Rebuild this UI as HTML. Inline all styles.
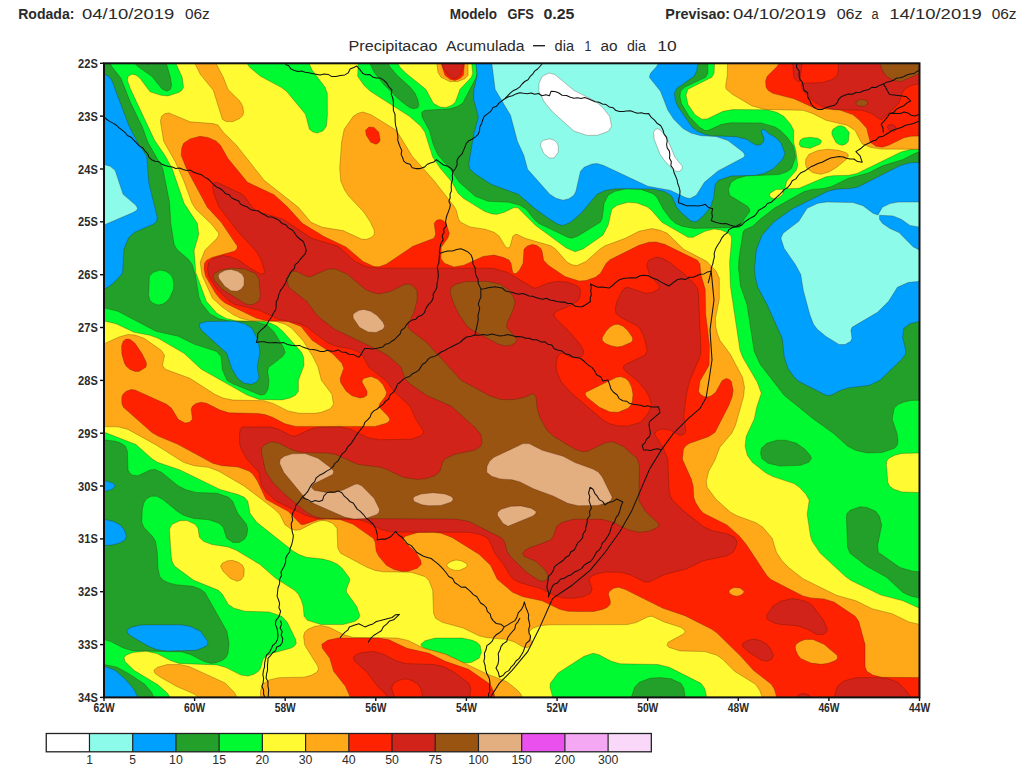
<!DOCTYPE html>
<html><head><meta charset="utf-8"><style>
html,body{margin:0;padding:0;background:#fff;width:1024px;height:770px;overflow:hidden}
svg{display:block}
text{font-family:"Liberation Sans",sans-serif;fill:#2a2a2a}
.hd{font-size:14px}
.b{font-weight:bold}
.ax{font-size:12px;font-weight:bold}
.lg{font-size:12px}
</style></head><body>
<svg width="1024" height="770" viewBox="0 0 1024 770">
<defs><clipPath id="mc"><rect x="104.0" y="63.3" width="815.5" height="634.1"/></clipPath></defs>
<text x="18.2" y="19.3" textLength="56.2" lengthAdjust="spacingAndGlyphs" class="hd b">Rodada:</text>
<text x="82.0" y="19.3" textLength="92.3" lengthAdjust="spacingAndGlyphs" class="hd">04/10/2019</text>
<text x="185.0" y="19.3" textLength="24.8" lengthAdjust="spacingAndGlyphs" class="hd">06z</text>
<text x="449.7" y="19.0" textLength="47.3" lengthAdjust="spacingAndGlyphs" class="hd b">Modelo</text>
<text x="507.5" y="19.0" textLength="26.3" lengthAdjust="spacingAndGlyphs" class="hd b">GFS</text>
<text x="543.4" y="19.0" textLength="31.0" lengthAdjust="spacingAndGlyphs" class="hd b">0.25</text>
<text x="665.3" y="19.3" textLength="64.7" lengthAdjust="spacingAndGlyphs" class="hd b">Previsao:</text>
<text x="732.9" y="19.3" textLength="93.1" lengthAdjust="spacingAndGlyphs" class="hd">04/10/2019</text>
<text x="836.7" y="19.3" textLength="25.9" lengthAdjust="spacingAndGlyphs" class="hd">06z</text>
<text x="871.5" y="19.3" textLength="7.1" lengthAdjust="spacingAndGlyphs" class="hd">a</text>
<text x="889.3" y="19.3" textLength="92.4" lengthAdjust="spacingAndGlyphs" class="hd">14/10/2019</text>
<text x="991.7" y="19.3" textLength="24.9" lengthAdjust="spacingAndGlyphs" class="hd">06z</text>
<text x="348.5" y="50.8" textLength="88.9" lengthAdjust="spacingAndGlyphs" class="hd">Precipitacao</text>
<text x="446.0" y="50.8" textLength="78.6" lengthAdjust="spacingAndGlyphs" class="hd">Acumulada</text>
<text x="554.6" y="50.8" textLength="19.4" lengthAdjust="spacingAndGlyphs" class="hd">dia</text>
<text x="584.4" y="50.8" textLength="6.8" lengthAdjust="spacingAndGlyphs" class="hd">1</text>
<text x="600.4" y="50.8" textLength="17.1" lengthAdjust="spacingAndGlyphs" class="hd">ao</text>
<text x="627.0" y="50.8" textLength="18.9" lengthAdjust="spacingAndGlyphs" class="hd">dia</text>
<text x="657.2" y="50.8" textLength="19.4" lengthAdjust="spacingAndGlyphs" class="hd">10</text>
<rect x="533" y="45" width="12" height="1.4" fill="#222"/>
<g clip-path="url(#mc)">
<rect x="104.0" y="63.3" width="815.5" height="634.1" fill="#ffffff"/>
<path fill="#8cfbea" stroke="rgba(60,20,0,0.45)" stroke-width="0.6" fill-rule="evenodd" d="M920.0 697.8 104.0 697.8 103.5 63.3 920.0 62.8 920.0 697.8ZM597.5 135.3 608.3 131.3 611.6 126.3 609.6 116.3 602.4 107.3 595.5 101.3 573.8 90.3 555.0 74.6 549.0 73.0 542.3 76.3 539.0 83.3 538.8 91.3 544.5 102.3 553.0 112.3 574.0 131.1 587.0 135.4 597.5 135.3ZM679.4 171.3 682.1 169.3 682.3 166.3 675.0 157.3 667.4 139.3 660.8 130.3 658.0 128.8 655.4 129.3 653.6 132.3 654.2 139.3 660.1 154.3 665.0 161.3 672.8 169.3 676.0 171.2 679.4 171.3ZM554.7 157.3 558.2 152.3 558.3 146.3 557.0 142.7 554.2 140.3 550.0 138.8 543.5 140.3 541.2 142.3 540.4 145.3 543.7 153.3 549.0 157.8 552.0 158.2 554.7 157.3Z"/>
<path fill="#00a0ff" stroke="rgba(60,20,0,0.45)" stroke-width="0.6" fill-rule="evenodd" d="M920.0 697.8 104.0 697.8 103.8 227.3 104.0 225.0 133.6 212.3 136.7 210.3 137.6 208.3 135.9 205.3 123.1 194.3 115.1 170.3 110.2 166.3 104.0 164.4 103.5 63.3 491.8 63.3 495.1 89.3 510.5 115.3 517.4 141.3 523.8 155.3 527.6 169.3 549.8 194.3 556.0 198.3 563.0 200.2 569.0 198.7 573.9 195.3 575.9 191.3 580.5 171.3 584.1 167.3 592.0 164.0 597.0 163.6 603.2 165.3 647.9 186.3 670.0 190.3 686.0 197.8 690.0 198.5 696.3 195.3 704.4 182.3 718.0 170.9 743.9 157.3 744.8 155.3 743.3 152.3 728.0 140.6 716.0 136.5 701.0 135.7 691.0 133.1 683.0 128.5 673.8 119.3 667.9 110.3 660.5 91.3 649.3 77.3 650.5 73.3 656.8 66.3 658.3 63.3 920.0 62.8 920.0 202.0 898.0 202.1 890.0 203.6 882.3 207.3 878.0 214.9 873.0 213.3 863.0 205.7 853.0 202.6 827.0 202.0 818.0 203.2 807.1 208.3 798.8 221.3 783.1 233.3 780.9 238.3 784.1 248.3 795.2 264.3 800.7 274.3 803.3 290.3 809.7 314.3 813.5 324.3 817.3 329.3 826.0 336.5 839.0 344.4 845.0 344.6 850.7 341.3 852.0 338.3 850.9 330.3 852.0 327.3 877.5 312.3 888.6 301.3 897.4 287.3 908.0 282.5 920.0 281.3 920.0 697.8ZM920.0 250.4 913.0 246.7 899.0 232.6 890.0 228.6 882.3 223.3 879.5 219.3 879.5 215.3 893.0 215.9 901.2 219.3 910.0 225.4 920.0 227.2 920.0 250.4Z"/>
<path fill="#22a02a" stroke="rgba(60,20,0,0.45)" stroke-width="0.6" fill-rule="evenodd" d="M920.0 697.8 138.0 697.3 133.2 688.3 125.3 679.3 115.1 670.3 104.0 666.0 103.8 664.3 104.0 545.5 112.0 545.1 120.0 542.9 124.7 540.3 126.6 536.3 124.5 530.3 120.8 525.3 113.3 521.3 104.0 519.3 103.8 517.3 104.0 491.7 112.0 489.4 115.2 486.3 114.4 484.3 112.0 482.6 104.0 480.4 103.7 477.3 103.7 294.3 104.0 289.0 108.0 287.3 114.3 282.3 122.6 273.3 123.9 249.3 128.9 237.3 134.8 232.3 154.0 223.9 156.6 221.3 157.3 217.3 148.9 183.3 146.7 156.3 136.4 140.3 128.7 125.3 111.8 80.3 108.9 76.3 104.0 74.0 103.6 63.3 137.0 63.0 145.6 63.3 147.0 64.4 149.4 63.3 173.0 62.8 475.8 63.3 476.9 76.3 473.8 90.3 473.6 99.3 478.4 117.3 473.9 133.3 468.7 164.3 469.3 168.3 474.3 173.3 491.0 184.2 518.4 194.3 534.5 208.3 549.0 218.8 558.0 224.3 563.0 225.4 570.5 222.3 581.1 213.3 597.0 194.3 605.0 190.6 615.0 188.8 653.0 188.9 665.0 191.7 671.8 196.3 676.7 207.3 680.8 212.3 691.0 221.0 696.0 221.9 702.9 216.3 710.4 207.3 713.8 197.3 715.2 184.3 718.6 180.3 731.0 176.0 755.0 175.4 764.0 173.5 773.0 168.9 782.7 159.3 785.0 153.3 781.1 143.3 776.0 137.7 769.0 133.7 764.0 129.3 762.0 129.7 761.1 131.3 764.0 138.3 763.7 141.3 761.1 144.3 758.0 145.2 754.5 144.3 746.5 139.3 736.0 136.7 712.0 135.8 705.0 134.4 697.2 131.3 692.0 127.1 677.7 106.3 675.3 100.3 674.4 93.3 676.9 88.3 694.1 76.3 696.6 71.3 698.0 63.3 920.0 62.8 920.0 162.4 910.0 162.8 900.8 165.3 858.0 187.0 850.0 188.6 836.0 189.2 827.9 191.3 792.0 209.0 773.5 222.3 762.0 235.3 756.5 249.3 754.5 267.3 755.0 276.3 757.8 287.3 766.9 304.3 782.2 338.3 784.3 357.3 787.8 368.3 794.3 377.3 798.6 381.3 826.0 395.3 831.0 395.3 840.7 390.3 848.0 387.9 869.0 385.4 880.0 380.3 901.7 359.3 905.5 354.3 905.8 350.3 902.6 337.3 903.8 328.3 910.0 323.8 920.0 321.3 920.0 697.8ZM251.8 384.3 257.0 381.6 259.0 378.3 257.3 366.3 260.0 352.3 258.0 340.3 252.0 328.3 245.0 323.8 234.0 321.1 207.0 321.6 199.9 323.3 199.2 326.3 201.5 330.3 226.8 353.3 231.6 368.3 237.6 378.3 244.3 383.3 251.8 384.3ZM196.4 650.3 206.1 646.3 207.7 644.3 207.7 641.3 200.5 631.3 190.0 626.3 181.0 624.8 141.0 624.9 131.3 627.3 127.8 629.3 126.7 631.3 128.6 634.3 134.6 638.3 149.0 646.5 157.0 649.7 167.0 651.1 196.4 650.3Z"/>
<path fill="#00fa32" stroke="rgba(60,20,0,0.45)" stroke-width="0.6" fill-rule="evenodd" d="M920.0 697.8 685.2 697.3 683.9 688.3 680.9 683.3 671.0 678.8 660.0 677.6 650.0 678.3 639.3 682.3 634.6 687.3 631.3 697.3 628.0 697.5 157.0 697.4 153.8 697.3 151.6 692.3 144.8 684.3 129.0 673.7 117.0 667.2 104.0 664.4 104.0 639.6 110.3 641.3 123.9 648.3 133.0 650.8 182.0 651.9 191.0 654.8 203.4 661.3 211.0 663.4 216.0 662.8 222.5 660.3 226.2 657.3 228.0 653.3 229.1 643.3 226.9 631.3 204.8 592.3 200.0 588.9 192.8 586.3 176.0 584.7 169.0 583.0 163.3 580.3 159.7 576.3 158.0 568.3 157.2 551.3 155.5 541.3 152.4 536.3 143.9 527.3 141.8 522.3 142.3 509.3 143.7 503.3 146.0 499.3 151.0 496.2 156.7 496.3 163.0 499.6 177.2 511.3 184.0 515.4 194.0 518.5 209.0 519.8 219.1 523.3 223.2 527.3 226.7 538.3 233.0 542.5 239.0 542.5 244.4 539.3 246.8 535.3 247.7 529.3 246.5 524.3 237.7 513.3 232.6 501.3 228.6 497.3 217.0 493.2 196.0 492.4 186.0 489.8 178.0 485.7 161.5 472.3 155.0 469.4 150.0 470.0 138.0 475.8 132.7 475.3 129.9 473.3 128.0 470.1 127.4 451.3 125.5 446.3 121.3 443.3 116.0 441.3 104.0 439.8 104.0 307.8 117.9 311.3 156.0 331.3 178.2 336.3 194.5 344.3 216.2 351.3 220.9 356.3 222.5 370.3 226.9 380.3 232.0 383.6 261.0 395.2 265.0 394.1 268.0 389.3 269.0 381.3 267.7 371.3 268.6 367.3 282.9 356.3 285.2 352.3 283.4 347.3 274.0 331.8 267.3 325.3 254.0 321.2 229.0 320.8 219.0 318.8 210.0 314.0 201.5 303.3 199.0 297.3 195.4 275.3 192.1 264.3 188.3 259.3 176.8 249.3 174.1 244.3 170.8 223.3 169.5 202.3 162.8 168.3 147.9 142.3 142.5 127.3 130.4 102.3 121.0 78.3 111.6 66.3 110.4 63.3 135.1 63.3 137.4 66.3 151.8 76.3 162.0 88.9 167.0 91.2 170.5 89.3 171.6 85.3 170.4 77.3 166.3 63.3 369.8 63.3 374.1 72.3 384.0 84.7 397.0 97.7 406.2 105.3 410.0 107.8 414.0 108.8 418.0 107.6 418.8 105.3 418.0 100.3 415.0 93.3 410.4 87.3 397.1 75.3 389.5 66.3 388.2 63.3 475.8 63.3 476.8 73.3 476.2 77.3 462.6 103.3 457.8 106.3 450.0 108.8 425.0 110.3 421.6 112.3 422.1 117.3 429.3 130.3 433.2 144.3 437.4 154.3 450.3 169.3 459.3 182.3 475.2 196.3 488.2 201.3 509.0 202.3 520.1 205.3 526.3 209.3 534.0 219.3 538.5 223.3 567.7 237.3 572.0 238.2 578.0 235.9 600.2 222.3 602.2 218.3 604.1 203.3 608.1 195.3 615.0 191.3 626.0 188.9 641.0 189.4 653.0 193.7 656.9 197.3 663.3 209.3 670.8 219.3 675.4 223.3 682.0 226.3 694.0 228.4 739.0 227.4 741.0 225.9 744.1 219.3 749.4 212.3 749.8 209.3 747.4 206.3 729.6 195.3 728.5 189.3 731.1 182.3 737.0 178.5 746.0 176.0 779.0 174.6 787.0 171.8 791.6 168.3 795.6 157.3 793.5 146.3 787.3 137.3 780.2 130.3 775.0 126.9 761.0 122.9 730.0 122.8 721.0 124.6 708.4 130.3 705.0 130.6 699.6 127.3 689.1 116.3 681.3 103.3 680.0 96.3 680.6 91.3 684.5 87.3 705.7 77.3 707.9 73.3 707.7 63.3 920.0 62.8 920.0 151.8 915.0 153.3 903.0 159.5 883.0 165.6 868.0 173.1 848.0 178.4 832.0 186.3 824.0 188.4 812.0 189.4 804.0 191.6 775.0 207.8 760.0 219.3 752.6 226.3 745.0 229.5 743.2 231.3 739.0 258.3 738.5 268.3 740.5 286.3 746.9 304.3 754.2 351.3 760.1 364.3 784.1 395.3 813.0 418.7 833.3 433.3 847.8 446.3 856.0 450.5 867.0 452.9 882.0 452.6 894.4 448.3 897.2 445.3 898.0 441.3 897.0 433.3 892.2 419.3 894.1 408.3 898.0 404.6 904.0 402.0 911.0 400.4 920.0 400.2 920.0 571.9 912.0 571.1 900.0 567.5 878.3 552.3 877.6 545.3 881.7 525.3 879.5 516.3 875.7 511.3 867.0 507.4 860.0 506.7 850.1 510.3 847.1 513.3 846.4 516.3 847.6 547.3 850.0 553.3 866.8 566.3 886.5 577.3 903.0 592.5 911.0 596.2 920.0 598.1 920.0 697.8ZM162.0 304.3 158.0 305.0 153.0 303.2 149.8 300.3 148.6 295.3 149.4 276.3 153.3 272.3 160.0 270.1 165.7 271.3 170.4 274.3 172.8 278.3 173.8 284.3 173.1 290.3 169.5 298.3 166.0 302.1 162.0 304.3ZM800.6 465.3 808.7 462.3 811.5 458.3 810.2 455.3 805.0 449.3 796.6 443.3 786.0 440.2 777.0 440.2 766.7 443.3 761.3 448.3 760.6 453.3 761.6 458.3 768.0 463.3 780.0 466.1 800.6 465.3Z"/>
<path fill="#fffa32" stroke="rgba(60,20,0,0.45)" stroke-width="0.6" fill-rule="evenodd" d="M920.0 697.8 706.8 697.3 704.6 688.3 701.0 683.3 669.3 667.3 658.0 664.5 620.0 663.8 611.4 661.3 599.0 654.8 593.0 653.3 584.0 656.3 558.0 673.0 550.3 683.3 550.0 687.3 552.7 697.3 549.0 697.5 170.0 697.3 167.6 693.3 158.0 684.8 134.0 670.3 124.8 661.3 124.1 657.3 127.0 654.7 133.0 652.4 146.0 651.3 157.0 653.6 171.0 660.7 179.0 663.4 217.0 664.9 226.0 667.6 241.0 675.1 248.0 676.1 253.9 674.3 258.5 671.3 260.5 668.3 263.0 659.5 266.0 656.2 273.0 653.0 290.7 648.3 294.3 646.3 296.3 643.3 295.6 639.3 287.3 622.3 281.8 616.3 269.0 611.9 245.0 611.3 234.0 608.2 228.2 604.3 222.4 594.3 218.5 590.3 193.7 580.3 174.8 566.3 172.4 562.3 171.3 557.3 169.4 529.3 172.0 524.3 180.0 520.7 187.0 520.6 195.1 524.3 198.0 528.3 199.4 537.3 203.4 541.3 212.0 544.5 228.0 547.0 236.4 550.3 260.0 564.5 275.7 578.3 294.6 590.3 298.4 594.3 301.3 600.3 303.2 606.3 304.1 616.3 307.4 620.3 321.0 624.5 343.0 624.6 355.0 621.3 358.9 618.3 359.8 615.3 356.6 606.3 346.5 592.3 346.4 589.3 349.5 581.3 349.6 578.3 342.2 568.3 337.5 564.3 331.0 561.2 323.0 559.1 306.4 557.3 299.0 554.6 293.0 550.9 256.8 522.3 250.0 513.3 247.8 501.3 244.4 497.3 238.0 494.5 220.0 489.4 180.0 469.9 157.5 462.3 152.0 458.8 136.0 444.5 104.0 432.1 104.0 321.0 116.0 323.7 134.0 332.3 149.8 335.3 158.1 338.3 184.0 353.3 201.0 369.1 247.5 395.3 259.0 399.4 282.0 399.9 290.0 398.0 295.5 395.3 298.4 391.3 298.4 380.3 304.0 365.3 303.6 357.3 301.5 352.3 283.0 331.4 277.2 326.3 270.8 323.3 263.0 321.3 236.0 320.8 226.0 318.4 216.9 313.3 206.4 301.3 195.7 272.3 194.1 250.3 198.8 234.3 197.3 223.3 184.1 203.3 172.0 168.3 165.5 156.3 154.6 140.3 130.6 89.3 127.3 80.3 128.2 76.3 132.0 74.2 136.0 75.1 140.0 78.3 150.0 91.7 161.0 95.3 168.0 95.9 179.2 92.3 181.9 90.3 183.5 87.3 182.2 77.3 175.8 63.3 247.0 63.3 249.6 67.3 260.5 76.3 281.1 87.3 286.5 91.3 305.5 114.3 309.4 129.3 313.0 132.0 317.0 133.1 323.0 130.9 326.4 126.3 327.4 115.3 327.3 93.3 325.1 87.3 312.3 70.3 308.9 63.3 358.2 63.3 357.7 76.3 363.9 85.3 370.3 91.3 409.4 116.3 420.8 126.3 424.9 132.3 432.8 157.3 440.3 168.3 452.0 182.3 458.0 193.3 463.4 198.3 484.4 211.3 492.0 213.9 497.0 214.3 504.2 212.3 514.0 207.6 518.0 207.8 535.4 225.3 566.0 247.8 575.0 251.8 583.0 249.1 602.9 235.3 608.1 225.3 611.8 209.3 617.1 205.3 628.0 202.3 637.0 203.0 647.0 206.8 651.5 210.3 661.9 222.3 688.0 237.3 693.0 237.3 704.9 231.3 714.0 229.0 721.0 230.0 728.5 233.3 731.1 236.3 731.6 239.3 729.6 262.3 730.4 286.3 740.0 350.3 742.7 357.3 757.3 382.3 761.3 393.3 756.7 407.3 754.2 419.3 746.2 436.3 745.1 446.3 747.3 455.3 752.3 462.3 766.0 473.0 773.0 476.6 794.0 483.6 799.4 487.3 805.9 494.3 809.2 500.3 807.2 514.3 810.5 536.3 812.2 541.3 820.3 553.3 845.2 576.3 851.0 580.5 881.0 595.1 903.0 600.8 920.0 608.5 920.0 697.8ZM446.0 107.5 440.0 107.0 433.4 103.3 425.8 89.3 406.0 73.2 400.0 67.3 397.7 63.3 471.8 63.3 472.7 73.3 471.4 77.3 460.0 89.3 455.3 102.3 451.7 105.3 446.0 107.5ZM799.0 188.3 788.0 188.7 785.0 187.9 786.7 181.3 796.3 170.3 797.7 165.3 796.0 151.3 793.6 142.3 793.7 130.3 790.6 124.3 784.0 116.4 776.8 112.3 767.0 109.8 733.0 109.6 723.0 111.3 707.0 119.0 702.0 119.2 695.0 114.7 687.9 104.3 686.0 95.3 687.9 89.3 711.8 77.3 714.1 73.3 714.5 63.3 920.0 62.8 920.0 149.2 910.0 149.6 901.0 152.0 857.0 173.5 849.0 175.3 833.0 175.7 826.0 176.8 799.0 188.3ZM842.5 145.3 846.0 143.9 848.4 141.3 849.1 132.3 845.0 127.2 841.0 125.7 838.0 126.0 832.9 129.3 831.8 132.3 832.2 135.3 835.8 142.3 839.0 144.6 842.5 145.3ZM810.1 148.3 819.8 144.3 821.3 142.3 821.2 140.3 817.8 138.3 810.0 137.2 803.0 138.2 800.1 140.3 799.2 144.3 801.0 147.0 810.1 148.3ZM778.0 198.3 774.0 198.8 771.0 197.6 769.4 195.3 770.1 193.3 776.0 189.4 783.6 189.3 782.8 194.3 778.0 198.3ZM920.0 492.6 902.0 491.9 894.0 489.3 889.7 486.3 887.8 482.3 886.4 464.3 886.7 461.3 888.9 458.3 894.7 455.3 902.0 453.4 920.0 453.0 920.0 492.6ZM471.7 662.3 479.1 658.3 481.4 652.3 480.1 645.3 476.9 642.3 472.5 640.3 462.0 638.0 435.0 638.1 425.0 640.7 420.8 644.3 421.6 646.3 424.7 648.3 445.0 654.0 461.0 661.9 467.0 663.1 471.7 662.3Z"/>
<path fill="#ffa818" stroke="rgba(60,20,0,0.45)" stroke-width="0.6" fill-rule="evenodd" d="M233.0 121.6 226.0 121.5 222.4 119.3 213.3 90.3 200.3 74.3 194.8 63.3 215.9 63.3 223.3 77.3 227.9 89.3 240.0 101.3 242.8 106.3 243.6 112.3 242.9 115.3 240.0 118.3 233.0 121.6ZM458.0 81.5 450.0 81.6 441.0 77.3 438.0 72.3 436.8 63.3 467.8 63.3 468.1 75.3 465.0 78.6 458.0 81.5ZM920.0 149.2 881.0 149.1 870.5 147.3 862.0 143.8 855.0 130.3 847.0 125.2 826.0 120.3 812.0 113.2 803.0 110.3 765.0 109.4 752.0 105.9 732.3 94.3 726.4 89.3 725.6 86.3 727.3 75.3 727.5 63.3 920.0 62.8 920.0 149.2ZM920.0 697.8 762.3 697.3 759.7 690.3 755.5 684.3 734.6 671.3 722.6 659.3 717.0 655.3 705.0 651.6 680.0 650.9 668.8 647.3 667.0 645.3 668.1 642.3 682.9 634.3 685.0 632.3 684.9 630.3 680.7 627.3 664.0 621.9 652.0 616.2 648.0 616.8 636.0 622.6 627.0 624.6 548.0 624.8 540.0 625.8 532.8 628.3 529.3 631.3 528.9 634.3 532.1 643.3 530.1 646.3 527.0 647.6 523.0 647.1 514.0 641.7 505.5 639.3 487.0 637.7 479.0 635.8 463.0 628.0 442.2 622.3 435.6 618.3 433.6 613.3 432.7 590.3 429.0 580.6 425.0 576.6 411.0 572.2 383.0 571.8 375.0 570.4 367.0 567.3 340.7 553.3 337.8 548.3 337.0 528.3 332.7 523.3 326.0 520.7 321.0 520.5 314.0 522.7 300.0 529.7 296.0 530.3 291.0 529.0 285.0 524.7 279.7 514.3 274.7 509.3 244.0 485.9 218.9 471.3 208.4 467.3 194.0 465.7 183.4 462.3 156.6 445.3 128.0 429.4 118.0 426.8 104.0 426.6 104.0 343.9 119.0 336.9 128.0 334.5 135.0 335.1 144.0 338.2 161.2 350.3 164.6 355.3 162.4 365.3 165.3 369.3 189.9 378.3 214.8 394.3 223.0 398.0 233.0 400.1 264.0 400.7 273.0 403.4 288.0 410.9 299.0 413.3 315.0 413.3 321.3 412.3 330.0 408.9 333.5 404.3 331.9 394.3 321.4 380.3 317.7 366.3 312.7 356.3 303.5 341.3 291.8 328.3 285.4 324.3 276.0 321.5 251.0 320.8 240.6 318.3 233.0 314.6 222.5 307.3 212.5 298.3 202.1 275.3 200.2 262.3 204.9 250.3 217.0 238.3 218.7 235.3 218.7 233.3 211.7 224.3 195.9 209.3 192.1 203.3 183.6 180.3 175.5 162.3 163.7 141.3 160.4 121.3 161.5 116.3 165.0 113.6 169.0 112.9 190.0 121.8 213.0 123.6 218.0 125.1 223.3 132.3 236.5 145.3 264.1 180.3 298.4 207.3 311.0 222.3 322.4 227.3 343.0 230.6 361.9 239.3 367.0 239.3 371.6 237.3 374.3 234.3 374.2 230.3 370.5 222.3 363.9 212.3 348.9 196.3 344.8 190.3 340.8 181.3 339.7 168.3 341.6 142.3 344.2 129.3 353.3 116.3 358.0 113.3 363.0 112.0 371.0 114.7 396.3 130.3 412.3 156.3 433.7 180.3 454.1 206.3 456.3 210.3 458.6 219.3 460.7 222.3 470.0 226.9 485.0 229.2 494.2 232.3 499.2 236.3 506.0 247.4 508.0 248.0 510.0 246.8 512.8 236.3 515.0 234.5 517.0 234.3 525.1 238.3 551.0 245.8 556.0 249.5 567.0 262.0 572.0 264.8 577.0 265.6 586.0 261.5 599.6 249.3 605.0 245.8 625.3 238.3 639.0 231.3 652.0 228.6 660.2 230.3 667.2 233.3 683.7 249.3 706.7 261.3 716.2 271.3 719.3 278.3 719.3 299.3 715.5 318.3 715.7 326.3 717.3 333.3 719.9 340.3 730.3 354.3 742.5 377.3 744.5 387.3 743.6 396.3 735.5 425.3 731.7 433.3 719.8 447.3 714.8 460.3 708.7 471.3 706.3 481.3 707.1 487.3 716.0 499.3 730.6 512.3 737.0 515.8 756.0 522.7 762.8 527.3 772.2 538.3 776.4 552.3 781.7 560.3 788.3 567.3 803.0 578.7 836.5 595.3 856.0 600.8 872.0 608.7 892.0 613.7 909.0 621.9 920.0 624.5 920.0 697.8ZM821.0 174.3 813.0 172.7 806.9 168.3 805.6 164.3 805.8 159.3 809.0 154.3 818.0 150.4 828.0 149.2 838.5 150.3 845.2 152.3 848.0 154.3 848.3 156.3 846.4 159.3 836.7 167.3 829.0 171.9 821.0 174.3ZM237.0 581.3 230.0 578.3 223.1 571.3 220.5 566.3 222.3 563.3 227.0 560.9 232.0 560.3 238.5 562.3 242.6 565.3 244.3 569.3 243.8 576.3 241.0 579.9 237.0 581.3ZM459.6 570.3 466.2 567.3 467.2 565.3 466.2 563.3 461.0 560.7 456.0 560.0 451.0 561.4 447.0 564.3 446.9 566.3 450.0 568.7 455.0 570.4 459.6 570.3ZM522.0 697.3 270.0 697.6 260.5 697.3 260.5 691.3 262.3 684.3 270.0 679.7 279.0 677.7 304.0 677.2 311.3 675.3 316.7 672.3 318.4 669.3 317.8 666.3 304.8 645.3 303.6 636.3 304.7 632.3 307.8 629.3 314.9 626.3 321.0 625.4 329.3 627.3 344.0 634.7 353.0 637.4 397.0 638.0 408.0 640.4 424.0 648.3 445.8 654.3 487.0 673.9 507.0 681.7 517.5 690.3 521.0 694.3 522.0 697.3ZM236.0 697.3 197.9 697.3 194.9 694.3 176.3 686.3 160.6 677.3 154.9 673.3 153.9 670.3 157.5 667.3 167.0 664.6 180.0 664.5 189.0 666.5 225.0 682.9 234.2 692.3 236.5 696.3 236.0 697.3Z"/>
<path fill="#ff2200" stroke="rgba(60,20,0,0.45)" stroke-width="0.6" fill-rule="evenodd" d="M455.0 80.4 450.0 79.3 445.0 75.3 441.1 63.3 464.5 63.3 463.4 75.3 460.0 78.6 455.0 80.4ZM882.0 147.3 876.0 146.2 870.2 142.3 866.7 128.3 859.0 119.7 853.0 114.8 840.0 110.1 815.0 108.3 794.0 98.8 772.7 93.3 768.0 90.3 766.1 87.3 765.6 81.3 767.2 76.3 777.3 66.3 779.0 63.3 920.0 62.8 920.0 136.0 911.0 136.2 904.0 137.8 888.0 145.5 882.0 147.3ZM376.0 144.3 370.8 142.3 366.3 135.3 365.6 130.3 369.0 127.1 374.0 127.4 378.8 132.3 380.2 140.3 379.0 142.6 376.0 144.3ZM920.0 697.8 776.7 697.3 774.4 689.3 771.3 684.3 753.4 670.3 740.8 656.3 717.0 633.0 711.8 629.3 685.0 615.7 663.0 608.3 624.9 589.3 618.4 587.3 613.6 588.3 609.4 591.3 608.4 594.3 610.4 601.3 610.2 604.3 607.4 607.3 603.1 609.3 594.0 611.4 579.0 611.5 568.0 611.3 559.7 609.3 542.0 600.8 523.0 596.8 512.6 592.3 497.3 579.3 490.5 565.3 479.0 554.3 452.0 537.4 441.2 533.3 434.0 532.3 418.0 532.4 405.3 536.3 403.4 538.3 403.9 541.3 416.6 553.3 420.7 560.3 421.3 564.3 417.3 568.3 408.0 571.3 402.0 571.5 394.0 569.4 386.4 565.3 378.8 556.3 376.2 551.3 375.2 542.3 373.2 538.3 353.1 524.3 340.0 519.6 327.0 519.1 318.0 519.8 304.0 524.5 301.0 524.5 288.1 511.3 266.0 499.3 257.0 480.3 252.9 474.3 249.4 471.3 238.0 467.0 222.0 465.8 212.8 463.3 177.8 444.3 158.0 436.1 152.0 432.6 123.4 407.3 121.8 403.3 121.8 397.3 122.9 394.3 126.2 391.3 131.0 389.5 135.0 389.9 166.7 404.3 171.6 408.3 178.2 419.3 185.0 423.1 189.3 422.3 192.4 419.3 191.2 409.3 192.3 406.3 196.0 403.6 201.0 402.2 206.6 403.3 220.0 410.1 229.0 412.8 258.0 413.5 265.0 414.6 272.6 417.3 285.0 423.8 296.0 426.4 375.0 426.4 386.4 423.3 389.1 421.3 389.8 419.3 388.2 416.3 379.3 407.3 379.3 404.3 385.5 396.3 386.6 392.3 383.0 384.7 377.9 379.3 371.0 376.4 364.1 378.3 362.3 380.3 362.1 382.3 367.1 391.3 366.9 395.3 364.0 397.3 360.0 398.0 352.0 395.8 346.0 390.9 340.5 382.3 340.2 378.3 343.8 368.3 341.8 363.3 333.0 354.0 312.1 340.3 301.0 326.4 288.0 321.5 266.0 320.7 256.0 318.1 225.0 302.9 220.5 299.3 215.6 293.3 205.6 276.3 204.1 269.3 204.5 263.3 206.7 260.3 212.0 257.4 234.1 251.3 236.7 249.3 237.4 246.3 221.2 222.3 207.3 207.3 186.3 168.3 181.2 155.3 181.7 148.3 183.6 143.3 190.0 138.9 200.0 136.3 208.0 137.5 216.0 140.9 220.5 145.3 227.8 158.3 247.5 182.3 274.0 194.7 286.9 206.3 302.3 223.3 324.0 236.5 346.0 246.9 363.0 261.5 374.0 266.5 379.0 266.7 386.2 264.3 412.9 246.3 434.0 238.3 435.6 234.3 434.2 223.3 436.6 220.3 440.0 219.4 443.0 220.4 446.1 223.3 449.3 233.3 448.0 237.8 441.2 247.3 441.0 258.7 444.5 263.3 454.0 266.9 463.8 265.3 483.0 256.4 494.0 255.1 503.0 257.3 509.0 260.1 511.0 263.3 512.7 272.3 514.0 273.6 516.0 273.5 519.4 270.3 523.1 263.3 524.0 249.3 527.0 246.2 532.0 244.4 536.5 245.3 540.6 248.3 542.1 251.3 543.6 260.3 548.3 265.3 565.0 276.6 579.0 281.0 586.0 280.5 595.4 277.3 600.5 273.3 606.2 263.3 610.0 259.7 639.0 245.3 649.0 242.2 656.0 242.0 664.6 244.3 697.4 260.3 700.0 264.3 701.1 275.3 705.2 289.3 705.7 314.3 709.5 345.3 709.1 365.3 699.9 381.3 698.6 391.3 700.3 394.3 704.0 396.6 707.0 397.0 711.0 396.0 715.7 392.3 722.0 380.7 726.0 378.5 729.0 379.2 731.3 381.3 733.1 390.3 732.3 396.3 728.9 405.3 715.1 432.3 709.0 436.5 689.0 443.6 685.3 446.3 683.4 449.3 682.4 459.3 691.4 479.3 693.2 486.3 693.8 497.3 695.5 502.3 699.8 509.3 703.6 513.3 727.0 524.9 739.6 536.3 746.2 544.3 766.7 575.3 770.5 579.3 803.0 595.9 811.0 597.9 824.0 598.9 834.0 602.0 855.2 616.3 858.7 621.3 865.0 644.3 865.0 666.3 866.8 671.3 873.0 675.1 882.0 677.3 920.0 677.6 920.0 697.8ZM622.0 346.3 631.3 342.3 632.7 340.3 632.4 337.3 627.5 330.3 623.0 326.3 618.0 324.2 614.0 324.7 609.7 327.3 606.0 331.3 602.4 337.3 602.2 340.3 605.0 343.3 611.0 345.8 617.0 346.9 622.0 346.3ZM139.0 371.4 135.0 371.4 130.0 369.4 126.3 366.3 124.5 363.3 121.9 354.3 121.6 346.3 123.0 341.4 126.0 339.1 130.0 339.3 135.0 343.3 141.8 353.3 145.8 361.3 146.6 364.3 145.8 367.3 139.0 371.4ZM618.1 412.3 628.0 408.3 630.9 405.3 632.3 401.3 633.0 394.3 631.6 387.3 629.0 381.5 625.4 378.3 621.0 376.7 616.5 377.3 585.9 392.3 585.2 394.3 586.9 397.3 599.5 407.3 610.0 411.9 618.1 412.3ZM740.5 595.3 743.5 593.3 744.1 591.3 740.0 587.9 734.0 587.6 730.4 589.3 728.9 591.3 729.5 593.3 733.0 595.5 737.0 596.2 740.5 595.3ZM494.0 697.3 350.3 697.3 345.4 686.3 333.6 671.3 329.8 658.3 322.4 648.3 321.8 644.3 327.7 640.3 338.0 638.0 379.0 638.0 389.0 639.8 407.0 648.3 429.0 653.3 445.4 661.3 468.6 669.3 490.2 684.3 493.6 691.3 494.8 697.3 494.0 697.3ZM821.4 664.3 828.2 663.3 835.0 660.7 837.6 658.3 837.1 655.3 824.0 644.3 813.0 639.5 805.0 639.5 800.0 641.4 796.1 644.3 795.2 647.3 795.8 650.3 798.0 655.3 801.0 658.7 811.0 663.1 821.4 664.3Z"/>
<path fill="#d2231b" stroke="rgba(60,20,0,0.45)" stroke-width="0.6" fill-rule="evenodd" d="M455.0 78.5 452.0 78.0 448.0 74.9 443.6 68.3 441.8 63.3 463.9 63.3 460.7 74.3 458.0 77.3 455.0 78.5ZM800.0 81.6 797.0 81.1 793.9 77.3 792.6 63.3 802.1 63.3 800.0 81.6ZM882.0 119.5 879.0 118.8 871.0 113.2 862.0 110.3 834.0 109.4 822.0 106.3 815.0 102.3 805.0 93.3 802.1 89.3 801.1 84.3 803.0 83.2 822.0 82.7 832.9 79.3 837.8 74.3 838.5 63.3 920.0 62.8 920.0 83.5 911.0 85.6 904.6 89.3 902.6 92.3 898.8 103.3 882.0 119.5ZM894.0 131.6 889.0 130.1 887.4 127.3 888.0 125.3 892.0 124.5 895.4 126.3 896.6 129.3 894.0 131.6ZM573.0 598.3 564.0 598.1 556.3 596.3 539.9 588.3 521.0 583.0 514.0 579.6 510.7 576.3 504.1 565.3 494.9 553.3 489.2 540.3 486.0 537.2 480.0 534.4 469.0 532.3 392.0 532.1 381.0 529.4 367.0 522.3 358.0 519.6 316.0 518.5 306.0 515.4 276.3 501.3 265.3 491.3 261.4 485.3 258.8 472.3 246.9 459.3 240.8 448.3 239.6 443.3 239.6 434.3 240.3 429.3 242.0 427.0 271.0 427.1 278.7 429.3 291.0 435.6 295.0 436.3 309.0 429.8 317.0 427.3 340.0 426.7 351.0 429.4 368.0 437.7 379.0 439.8 411.0 439.2 421.0 435.7 423.4 433.3 423.6 431.3 415.8 419.3 410.0 406.3 395.9 393.3 385.6 380.3 368.9 367.3 363.0 356.3 359.1 352.3 351.0 348.8 336.8 346.3 328.2 343.3 307.0 327.3 300.0 323.7 278.7 319.3 259.0 310.2 234.6 304.3 228.0 300.3 217.2 289.3 209.3 277.3 207.5 269.3 208.8 262.3 212.0 259.3 216.2 257.3 223.0 255.6 230.0 256.7 239.0 260.3 249.0 267.5 261.0 274.3 264.0 273.5 264.6 271.3 261.4 260.3 256.0 251.0 239.4 233.3 219.2 207.3 213.5 193.3 212.6 186.3 214.0 182.8 217.0 182.3 241.0 193.6 245.3 197.3 252.2 207.3 257.6 211.3 283.0 219.3 311.7 238.3 338.0 246.3 355.0 261.4 366.0 266.6 376.0 268.0 493.0 268.2 507.2 272.3 534.0 288.1 537.0 287.8 548.0 283.1 557.0 281.4 567.0 282.0 576.2 285.3 578.9 287.3 580.5 290.3 580.1 296.3 578.4 300.3 573.1 304.3 556.9 311.3 554.5 313.3 553.9 315.3 555.5 318.3 568.0 330.3 578.0 341.8 583.1 349.3 583.8 353.3 581.3 356.3 576.0 358.0 570.0 356.8 563.0 353.2 560.0 353.8 557.8 356.3 556.4 361.3 556.1 367.3 557.1 372.3 560.9 381.3 571.7 393.3 603.4 420.3 609.0 423.4 617.0 425.8 627.0 426.2 640.8 422.3 648.7 412.3 651.4 405.3 649.5 397.3 645.6 390.3 637.9 381.3 625.6 371.3 623.4 368.3 623.6 366.3 625.8 364.3 644.9 355.3 647.3 350.3 644.5 338.3 639.8 328.3 636.2 325.3 619.0 316.4 616.0 313.3 615.4 309.3 616.3 303.3 620.7 293.3 624.0 288.7 627.0 287.1 646.0 293.4 652.8 292.3 658.2 289.3 659.2 287.3 658.7 285.3 649.3 274.3 646.7 265.3 648.8 260.3 656.0 257.1 662.0 258.1 669.5 262.3 685.9 275.3 694.8 284.3 697.4 288.3 698.4 292.3 701.0 352.3 699.4 358.3 689.8 380.3 686.6 393.3 683.8 416.3 685.9 431.3 683.9 434.3 680.0 435.5 670.0 430.1 662.0 428.9 656.0 431.1 654.8 434.3 663.3 448.3 667.8 459.3 668.9 488.3 670.4 496.3 672.5 500.3 684.2 511.3 704.0 527.1 712.0 530.5 728.6 534.3 734.6 537.3 737.0 541.3 735.9 547.3 732.8 552.3 727.0 555.8 703.0 560.8 686.0 569.1 665.2 574.3 649.0 582.1 644.0 581.8 631.0 575.1 621.0 572.3 606.0 572.0 597.0 573.8 591.4 576.3 589.0 579.3 592.1 589.3 590.4 593.3 583.0 596.8 573.0 598.3ZM823.0 634.4 817.0 634.5 807.0 629.0 797.0 625.7 781.0 624.5 774.0 622.9 767.3 619.3 766.4 615.3 772.9 606.3 780.7 601.3 792.0 598.5 803.0 600.4 809.0 603.1 813.1 606.3 823.5 620.3 827.4 629.3 826.1 632.3 823.0 634.4ZM767.0 661.3 761.6 660.3 749.0 652.2 743.3 647.3 742.3 645.3 742.9 643.3 747.8 640.3 754.0 639.1 760.0 640.5 766.0 643.6 770.3 648.3 773.4 655.3 771.5 659.3 767.0 661.3ZM469.0 697.3 422.8 697.3 421.0 689.3 418.1 684.3 412.0 680.5 405.0 678.8 398.0 680.6 392.8 684.3 391.7 688.3 394.4 697.3 386.9 697.3 386.0 694.3 377.5 686.3 367.0 672.3 354.7 661.3 353.4 657.3 356.0 654.8 361.0 652.7 373.0 651.4 383.0 654.0 396.0 660.7 405.0 663.6 434.0 664.5 444.0 666.8 454.0 672.0 468.9 683.3 470.7 688.3 469.8 697.3 469.0 697.3ZM909.0 697.3 834.2 697.3 837.4 686.3 844.0 680.9 856.0 677.7 877.0 677.6 887.0 678.3 898.0 682.3 906.8 691.3 909.3 695.3 909.8 697.3 909.0 697.3ZM810.0 697.3 796.1 697.3 799.2 694.3 804.0 693.2 809.4 695.3 810.9 697.3 810.0 697.3Z"/>
<path fill="#9a5412" stroke="rgba(60,20,0,0.45)" stroke-width="0.6" fill-rule="evenodd" d="M901.0 81.4 894.0 80.6 887.0 76.8 882.8 71.3 879.6 63.3 920.4 63.3 920.0 73.4 901.0 81.4ZM864.0 106.5 858.0 105.7 856.3 104.3 855.9 102.3 860.1 99.3 866.0 100.2 868.1 103.3 864.0 106.5ZM253.0 304.6 249.0 304.9 244.6 303.3 222.2 289.3 214.5 280.3 213.1 277.3 213.6 274.3 219.9 270.3 231.0 268.1 244.0 268.8 255.3 273.3 259.1 279.3 260.4 296.3 258.4 301.3 253.0 304.6ZM543.0 581.4 538.6 580.3 526.0 571.8 511.0 557.1 507.0 551.3 504.7 542.3 502.0 538.1 469.0 521.5 456.0 519.1 322.0 518.5 313.0 515.8 306.0 511.9 286.0 495.3 273.5 483.3 265.5 471.3 261.4 451.3 261.7 448.3 263.7 445.3 271.0 441.8 278.0 442.7 292.0 449.8 301.0 452.5 328.0 453.1 335.0 454.2 357.6 464.3 380.4 467.3 388.0 469.9 403.0 477.3 417.0 479.4 426.0 478.7 435.6 475.3 439.9 471.3 442.5 462.3 445.7 458.3 454.8 454.3 475.0 450.1 480.6 446.3 482.0 442.3 480.7 434.3 474.8 427.3 451.4 406.3 426.5 395.3 409.1 383.3 404.8 378.3 401.2 367.3 389.0 356.6 381.0 351.4 334.7 329.3 320.4 318.3 315.4 313.3 306.7 301.3 288.7 287.3 286.4 278.3 289.0 273.3 293.0 271.4 296.0 271.3 306.0 276.1 310.0 276.9 326.0 269.9 331.0 268.8 336.0 269.3 347.5 274.3 365.1 289.3 371.8 292.3 379.0 293.9 390.0 291.6 405.0 284.3 409.0 284.1 412.2 285.3 416.9 290.3 417.3 299.3 414.0 312.3 408.0 324.3 408.0 327.3 411.6 331.3 426.5 342.3 461.1 380.3 490.0 396.0 501.0 399.6 514.0 399.6 524.8 397.3 532.0 393.8 534.0 394.1 536.1 397.3 537.0 407.3 539.8 417.3 547.0 430.3 553.6 436.3 574.9 449.3 582.0 451.6 587.0 451.4 606.0 442.6 613.0 441.8 623.1 446.3 637.0 458.3 639.4 465.3 638.8 500.3 645.3 511.3 658.2 523.3 658.8 525.3 657.8 527.3 649.0 531.2 639.0 532.2 628.0 529.8 613.0 522.3 602.0 519.3 574.0 519.2 562.2 522.3 556.7 526.3 553.4 536.3 550.2 540.3 528.6 548.3 525.0 550.3 522.7 553.3 524.0 556.3 535.6 561.3 544.6 569.3 547.6 574.3 548.1 577.3 546.0 580.3 543.0 581.4ZM510.0 345.4 505.0 346.0 498.0 344.0 472.6 330.3 467.2 326.3 459.4 315.3 453.2 302.3 450.1 292.3 451.3 287.3 456.0 284.2 465.0 281.7 487.0 281.3 500.0 284.1 508.0 289.3 513.7 297.3 515.2 302.3 513.0 310.3 507.0 323.3 506.5 327.3 515.7 337.3 516.9 340.3 514.7 343.3 510.0 345.4Z"/>
<path fill="#e3ae80" stroke="rgba(60,20,0,0.45)" stroke-width="0.6" fill-rule="evenodd" d="M237.0 291.3 231.0 290.7 224.7 286.3 218.7 278.3 218.3 275.3 219.5 273.3 225.0 270.3 231.0 269.4 237.7 271.3 242.2 274.3 244.2 278.3 244.0 285.3 241.1 289.3 237.0 291.3ZM376.0 332.5 368.0 331.9 359.4 327.3 353.3 318.3 352.9 315.3 354.0 313.3 359.0 310.3 364.0 309.4 370.7 311.3 376.9 315.3 383.0 322.3 384.7 326.3 383.0 329.3 376.0 332.5ZM598.0 505.5 578.0 505.7 567.7 503.3 553.0 495.9 534.0 489.0 520.0 481.9 512.0 479.8 500.0 478.9 491.6 476.3 486.7 472.3 487.0 466.3 489.5 461.3 494.0 457.3 523.0 443.6 529.0 443.6 542.3 450.3 563.2 456.3 575.0 462.6 593.5 469.3 598.6 472.3 602.4 477.3 612.2 497.3 611.0 500.3 608.2 502.3 598.0 505.5ZM366.0 518.5 354.0 519.0 345.1 517.3 307.0 500.6 283.7 472.3 279.6 463.3 280.3 459.3 284.3 456.3 292.0 453.8 305.0 453.6 318.0 458.2 331.3 468.3 333.7 471.3 333.1 474.3 313.1 484.3 311.3 487.3 314.2 490.3 326.0 492.4 333.0 492.5 343.0 490.1 355.0 484.2 358.0 484.1 362.0 486.1 374.1 498.3 379.5 509.3 379.0 512.3 377.0 514.4 366.0 518.5ZM441.0 505.4 429.0 505.8 422.0 504.8 414.0 501.4 413.0 498.3 415.1 496.3 421.0 494.0 433.0 492.7 445.0 494.0 450.9 496.3 453.0 498.3 452.9 500.3 450.7 502.3 441.0 505.4ZM508.0 526.3 503.0 523.4 497.4 515.3 497.6 512.3 501.1 509.3 511.0 506.3 521.0 505.9 531.0 508.2 535.9 511.3 536.0 513.3 533.0 515.9 508.0 526.3Z"/>
<polyline fill="none" stroke="#111" stroke-width="1.05" stroke-linejoin="round" points="104.0,116.5 106.5,119.3 109.6,121.4 113.0,123.1 116.2,125.0 118.8,127.7 121.8,129.9 124.9,132.3 127.4,135.5 131.0,137.2 133.8,140.1 136.6,142.8 139.1,145.9 142.7,147.8 144.9,150.8 147.5,153.5 148.9,157.1 151.6,159.7 155.0,161.2 158.7,161.6 161.7,164.2 165.1,165.6 168.7,166.5 172.4,167.1 175.8,168.6 179.6,167.9 183.1,169.4 186.6,170.4 190.3,170.1 193.7,172.2 197.4,173.6 201.4,174.7 204.6,177.1 208.1,179.0 210.9,181.6 213.5,184.5 216.4,186.9 220.1,188.5 223.0,190.9 225.5,193.7 229.2,194.7 231.5,197.8 234.8,199.5 238.5,200.7 240.5,204.1 243.8,205.8 247.4,207.1 250.5,209.4 254.1,210.6 258.1,210.7 261.1,213.2 264.6,214.7 268.0,216.9 272.3,217.1 275.9,218.8 279.5,220.6 282.0,223.6 285.9,224.8 288.3,227.9 291.8,229.7 294.4,232.5 296.6,236.2 299.9,239.0 303.3,241.5 304.9,245.9 306.3,250.4 305.1,253.9 302.6,256.6 300.3,259.3 298.1,262.3 295.1,264.7 294.3,268.7 291.4,271.2 289.3,275.1 287.1,278.9 285.5,283.1 283.1,287.0 280.4,290.6 278.7,294.9 277.9,298.6 276.2,302.1 276.2,306.0 275.7,309.7 273.3,313.3 271.4,317.2 268.8,320.8 266.8,324.6 264.0,327.7 260.7,330.4 257.8,333.5 257.6,338.1 256.4,342.5 260.3,341.8 264.1,341.8 268.0,342.7 271.8,342.8 275.7,342.5 279.7,342.9 283.7,342.6 287.5,344.5 291.5,345.3 295.4,345.8 299.5,345.4 302.8,347.1 306.2,348.2 309.6,349.3 313.3,349.5 316.9,350.2 320.3,351.4 323.9,351.6 327.4,350.3 331.1,351.2 334.7,351.0 338.2,349.9 341.6,351.9 345.5,352.3 349.0,354.2 353.0,354.4 359.0,357.3 361.1,354.4 362.8,351.3 364.9,348.4 368.5,348.5 372.2,348.9 375.7,348.4 379.3,347.8 382.8,346.9 385.3,344.3 388.9,343.4 391.7,341.3 394.7,339.5 397.3,336.7 400.1,334.0 401.4,330.2 404.6,327.9 406.6,324.6 409.1,321.9 412.2,320.1 415.9,319.2 418.3,316.4 421.8,315.3 424.4,312.7 425.9,308.5 428.2,304.9 431.4,301.7 433.3,297.8 433.2,294.0 435.3,290.7 436.9,287.3 437.0,283.6 437.8,280.0 438.3,275.6 438.0,271.2 437.3,267.0 438.9,262.9 439.1,258.7 439.4,254.6 439.5,250.4 440.2,246.8 441.0,243.2 443.2,239.9 442.1,235.8 444.0,232.5 443.7,228.8 446.5,225.8 445.5,222.0 446.1,218.5 447.0,215.0 448.4,211.7 449.6,208.3 450.4,204.9 448.9,201.2 450.2,197.8 450.0,194.2 451.4,190.9 451.2,187.0 451.4,183.1 452.6,179.3 452.3,175.4 452.9,171.6"/>
<polyline fill="none" stroke="#111" stroke-width="1.05" stroke-linejoin="round" points="285.4,64.5 288.8,65.8 291.0,69.1 294.4,70.4 297.9,71.6 301.6,71.1 305.1,72.2 308.7,72.7 312.2,73.4 316.1,74.2 320.1,75.0 324.2,74.0 328.2,74.4 331.9,76.6 336.0,76.4 340.4,75.5 344.9,74.9 348.2,72.9 350.1,69.1 353.8,67.5 356.8,66.0 359.9,69.6 362.8,73.4 366.1,74.8 369.8,74.6 372.9,77.0 376.3,77.9 380.0,77.9 383.7,80.1 386.7,83.1 388.9,86.9 391.9,89.8 391.2,94.0 392.8,98.1 393.4,102.2 393.3,106.4 393.4,110.6 395.0,114.2 395.1,117.9 395.2,121.7 395.6,125.4 396.7,129.1 397.3,132.8 397.9,136.5 397.8,140.3 398.9,143.8 400.2,147.1 401.8,150.5 401.1,154.4 402.7,157.8 403.8,161.2 406.6,163.3 410.1,164.3 412.2,167.7 415.7,168.6 420.3,168.6 424.6,167.1 427.1,164.5 430.4,163.1 433.8,162.0 436.5,159.7 440.0,162.3 443.5,165.0 447.8,166.2 451.4,168.6 452.9,171.6"/>
<polyline fill="none" stroke="#111" stroke-width="1.05" stroke-linejoin="round" points="452.9,171.6 455.5,168.5 457.1,164.9 457.0,160.6 458.8,157.1 461.9,154.2 463.4,150.6 465.0,147.0 466.3,143.3 469.0,140.7 472.4,139.0 475.4,136.8 478.2,134.4 479.5,130.9 479.8,127.0 481.6,123.6 482.7,120.0 484.1,116.5 487.4,113.9 490.8,111.3 493.0,107.6 496.6,106.2 499.0,103.2 501.9,100.8 504.9,98.7 507.6,95.9 510.2,93.1 513.2,90.7 516.8,89.1 519.8,86.8 522.1,84.0 524.7,81.5 528.0,79.8 530.0,76.7 532.6,74.2 534.6,71.1 537.6,69.0 542.1,64.0"/>
<polyline fill="none" stroke="#111" stroke-width="1.05" stroke-linejoin="round" points="504.9,98.7 508.4,96.7 512.4,95.8 516.0,93.9 519.8,92.7 523.5,93.3 527.2,93.7 531.1,92.9 534.7,94.2 538.5,93.5 542.0,95.7 545.9,94.8 549.5,95.7 551.0,91.3 554.9,91.4 558.5,92.7 562.1,95.2 566.5,95.6 570.4,97.2 573.9,98.2 577.5,97.7 581.1,98.4 584.7,97.6 588.2,98.7 591.7,100.2 595.1,101.8 598.9,102.3 602.4,103.9 606.1,104.6 609.2,106.9 613.2,107.8 616.0,110.6 619.5,111.5 623.1,111.4 626.7,111.1 630.3,110.8 633.8,112.1 637.4,113.3 641.3,112.8 644.9,113.7 648.7,113.6 651.1,117.2 654.3,119.9 657.0,123.2 660.6,125.5 662.8,129.4 664.0,133.7 666.6,137.4 667.2,140.8 666.6,144.5 667.2,147.9 669.4,151.1 669.8,154.6 669.5,158.2 671.3,161.6 670.9,165.6 673.2,168.8 674.0,172.5 675.5,176.0 677.0,179.6 677.7,183.5 679.1,187.1 680.0,190.9 679.8,194.9 678.8,198.8 678.5,202.8 682.4,204.0 686.2,205.7 690.4,205.8 694.1,205.8 697.9,206.0 701.6,205.5 705.2,204.3 708.4,207.4 712.7,208.7 711.8,212.6 712.4,216.7 711.2,220.6 714.7,222.1 718.4,223.1 722.1,223.7 726.0,223.6 730.5,225.2 735.0,226.6 740.9,223.6"/>
<polyline fill="none" stroke="#111" stroke-width="1.05" stroke-linejoin="round" points="439.5,253.4 443.7,252.0 448.0,250.9 452.5,250.9 456.6,249.6 460.8,248.8 464.6,250.2 468.2,252.1 471.1,255.0 472.7,259.3 473.0,263.9 475.2,268.0 475.3,271.9 476.1,275.7 478.1,279.2 478.2,283.1 480.9,288.9 484.5,288.7 488.0,287.8 491.6,287.3 495.1,286.8 498.8,287.4 502.3,288.0 505.1,290.7 508.5,291.7 512.0,292.2 515.3,293.5 518.7,294.2 522.4,293.6 525.8,294.5 529.1,295.9 532.6,296.3 535.9,297.5 539.3,298.5 542.8,299.2 546.6,298.2 549.8,300.0 553.3,300.5 556.8,301.6 560.5,302.1 564.3,302.1 567.8,303.5 571.6,303.5 574.8,306.1 578.4,306.7 582.2,306.7 586.4,304.2 590.5,301.5 590.1,298.0 591.4,294.5 590.7,291.0 591.3,287.5 590.5,284.0 594.6,286.0 598.1,287.3 601.8,287.1 605.4,287.4 609.0,288.1 612.6,285.5 615.8,282.4 619.4,279.8 623.4,278.4 627.6,278.0 631.8,277.8 636.0,278.0 639.9,275.8 644.0,275.2 648.3,275.7 652.3,278.0 656.8,279.4 660.7,281.9 664.8,284.0 668.9,286.0 673.0,282.8 677.2,279.8 681.2,278.8 685.4,279.6 689.2,277.2 693.3,277.2 696.8,275.8 700.3,274.2 704.1,273.9 707.5,271.9 711.2,271.2"/>
<polyline fill="none" stroke="#111" stroke-width="1.05" stroke-linejoin="round" points="475.0,335.0 475.8,331.2 476.7,327.4 477.4,323.5 478.3,319.7 477.9,315.7 478.9,311.9 479.7,308.1 478.2,304.1 479.5,300.4 481.0,296.7 480.8,292.8 480.9,288.9"/>
<polyline fill="none" stroke="#111" stroke-width="1.05" stroke-linejoin="round" points="302.2,497.2 305.2,494.5 307.8,491.4 309.7,487.8 311.8,484.4 314.7,481.6 316.2,477.8 319.4,475.3 323.2,473.5 326.6,471.1 330.3,469.1 333.1,466.7 334.8,463.4 337.8,461.2 339.7,458.1 341.9,454.2 345.4,451.2 347.5,447.2 351.0,443.6 353.8,439.4 356.2,435.4 359.0,431.7 361.2,428.8 363.6,426.0 364.8,422.4 367.6,419.9 370.1,417.2 371.3,413.6 373.8,410.9 377.2,409.0 380.0,406.5 383.2,404.4 385.5,401.1 388.7,399.0 390.2,394.8 393.7,391.9 396.0,388.2 397.6,384.1 400.5,382.0 403.1,379.4 406.2,377.6 409.7,376.4 412.3,373.8 415.5,372.2 418.7,370.4 420.6,367.4 422.5,364.3 425.7,362.5 427.7,359.6 430.4,357.3 434.4,356.4 437.9,354.5 441.1,352.0 444.8,350.5 448.2,348.4 452.1,346.5 456.0,344.5 459.9,342.6 463.1,339.5 466.7,337.0 470.9,336.2 475.0,335.0 479.2,335.2 483.3,334.6 487.5,335.2 491.6,334.1 495.8,335.0 499.8,336.0 503.9,335.4 508.0,334.6 512.0,335.6 515.4,336.6 518.9,336.6 522.4,337.0 525.7,338.3 529.3,338.2 532.6,339.7 536.8,339.8 540.7,341.9 545.0,341.8 547.9,344.2 551.8,345.0 554.0,348.5 557.4,350.0 562.0,351.1 565.7,354.1 569.4,354.8 572.7,357.1 576.4,357.5 580.1,358.3 583.3,360.5 586.1,363.1 589.0,365.6 592.2,367.6 594.6,370.7 596.5,374.8 600.9,377.0 602.9,381.0 607.9,380.0 609.6,384.4 610.9,388.9 613.5,392.3 617.0,394.7 619.1,398.6 622.8,400.8 626.5,401.2 629.7,403.6 633.3,404.3 636.9,404.8 640.6,405.3 644.1,406.5 647.8,405.8 651.3,406.9 654.9,407.1 658.5,406.8 660.0,412.7 656.5,415.6 653.0,418.7 649.5,421.6 649.0,425.3 649.7,429.1 650.4,432.8 649.5,436.5 646.6,439.1 645.0,442.8 642.1,445.4 643.6,449.9 647.2,449.9 650.7,450.5 654.3,449.2 657.8,448.8 661.4,449.9"/>
<polyline fill="none" stroke="#111" stroke-width="1.05" stroke-linejoin="round" points="302.2,497.2 299.4,501.3 296.0,505.0 295.1,509.2 292.8,512.8 292.0,516.4 292.7,520.2 291.2,523.8 291.6,527.8 292.3,531.8 293.4,535.8 292.8,540.0 291.6,545.0 290.1,548.3 289.6,552.0 287.3,555.0 285.7,558.2 285.6,561.9 284.6,565.4 282.9,568.6 281.0,571.9 281.5,575.8 279.7,579.0 279.6,583.6 278.0,588.0 277.5,592.5 277.1,596.4 278.6,600.0 279.6,603.7 278.9,607.7 280.6,611.3 279.1,616.4 275.9,620.6 275.4,624.4 277.0,628.1 277.6,631.8 278.0,635.6 277.5,639.4 275.8,642.8 272.8,645.3 271.3,648.8 269.5,652.3 266.6,655.0 265.6,658.9 264.7,662.7 264.5,666.8 263.4,670.6 262.9,674.5 263.6,678.5 263.2,682.5 261.9,686.3 263.6,690.0 263.6,694.2 265.0,698.0"/>
<polyline fill="none" stroke="#111" stroke-width="1.05" stroke-linejoin="round" points="280.6,620.6 281.5,624.2 280.1,628.0 282.2,631.5 281.2,635.2 282.8,638.8 282.2,642.5 280.3,645.5 276.7,647.0 275.6,650.7 272.6,652.7 270.5,655.6 268.1,658.1 267.8,662.0 267.4,666.0 267.6,669.9 266.6,673.8 266.1,677.9 268.0,681.8 267.9,685.9 268.7,689.9 268.4,693.9 268.1,698.0"/>
<polyline fill="none" stroke="#111" stroke-width="1.05" stroke-linejoin="round" points="302.2,497.2 305.4,498.7 308.6,500.1 311.6,501.9 315.1,500.6 319.0,501.6 322.5,500.3 323.9,495.8 327.2,492.5 330.8,492.0 334.6,492.3 338.1,490.9 341.8,492.8 344.3,496.2 347.5,498.8 349.8,501.4 353.2,503.0 355.2,506.1 357.2,509.1 360.0,511.2 363.2,514.3 365.9,517.8 369.4,520.6 373.1,524.0 375.6,528.4 376.7,532.2 377.5,536.0 377.2,540.0 381.4,539.1 385.8,539.1 389.8,537.3 392.9,534.5 395.7,531.4 398.3,534.8 401.9,537.2 404.7,540.3 407.3,543.7 411.3,545.6 413.9,548.9 416.6,552.2 420.0,554.3 423.5,556.2 427.4,557.4 431.2,558.5 434.4,561.1 437.7,563.7 440.8,566.6 443.7,569.7 446.3,573.0 448.8,576.5 452.7,578.5 454.6,582.5 458.2,584.9 461.2,587.2 465.2,587.0 468.1,589.4 470.9,591.8 473.3,594.6 476.7,596.5 478.7,599.7 480.6,603.0 483.8,605.0 486.4,607.7 487.3,611.3 490.1,613.9 491.1,617.6 493.1,620.6 496.3,623.5 500.8,624.2 504.1,626.9 502.3,630.3 499.5,632.7 496.3,634.7 493.9,637.4 492.4,640.8 489.9,643.5 486.9,645.6 486.1,649.5 484.4,653.3 484.7,657.4 483.8,661.3 485.1,665.4 485.6,669.7 486.9,673.8 489.3,678.2 490.0,683.1 489.4,686.8 489.9,690.6 488.6,694.2 488.4,698.0"/>
<polyline fill="none" stroke="#111" stroke-width="1.05" stroke-linejoin="round" points="504.1,626.9 507.8,624.9 511.3,622.6 515.0,620.6 517.0,616.9 518.2,612.8 521.3,609.7 523.2,606.0 524.4,601.9 525.6,606.7 527.5,611.3 528.7,614.8 528.3,618.4 529.2,622.0 529.8,625.5 528.7,629.3 529.1,632.9 530.6,636.3 529.6,640.5 526.2,643.4 524.8,647.4 523.4,651.4 521.3,655.0 519.2,658.4 516.0,661.0 513.9,664.4 511.0,667.2 508.8,670.6 505.5,672.4 503.0,675.5 499.4,676.9 498.3,672.2 496.0,668.0 497.8,664.6 498.6,661.0 498.6,657.3 498.2,653.4 500.0,650.0 501.1,646.4 503.3,643.6 506.8,641.5 507.6,637.8 509.8,634.8 512.0,632.0 514.8,628.9 515.6,624.8 518.1,621.6 520.0,618.0"/>
<polyline fill="none" stroke="#111" stroke-width="1.05" stroke-linejoin="round" points="340.0,637.8 342.3,635.0 344.8,632.4 347.8,630.2 349.4,626.9 354.1,625.3 358.8,623.8 365.0,626.9 368.9,625.3 372.9,623.9 376.4,621.5 380.6,620.6 384.4,619.4 388.2,618.4 392.1,617.5 395.4,614.8 399.4,614.4 396.5,617.1 393.7,619.8 389.6,620.9 386.9,623.8 383.5,626.6 381.3,630.7 377.5,633.1 373.6,635.5 370.5,638.6 368.1,642.5"/>
<polyline fill="none" stroke="#111" stroke-width="1.05" stroke-linejoin="round" points="490.0,698.0 499.4,683.1 511.9,670.6 527.5,651.9 540.0,626.9 552.5,598.8 554.4,597.1 572.2,585.2 590.1,570.4 604.9,552.5 619.8,531.7 631.7,510.9 640.6,490.1 649.5,469.2 661.4,449.9 673.3,433.5 688.2,418.7 700.1,408.3 706.1,397.8 709.0,380.0 712.0,360.0 710.0,330.0 714.0,300.0 711.2,271.2 708.2,283.1"/>
<polyline fill="none" stroke="#111" stroke-width="1.05" stroke-linejoin="round" points="711.2,271.2 711.3,267.6 712.8,264.1 713.4,260.6 714.4,257.1 714.2,253.4 715.5,249.1 717.6,245.2 720.1,241.5 721.7,238.1 724.1,235.2 727.2,232.9 729.0,229.6 733.1,227.3 737.7,226.6 742.0,225.0 744.5,222.2 747.5,220.0 750.6,217.9 754.1,216.3 756.6,213.6 758.7,210.3 762.0,208.4 765.2,206.5 767.4,203.5 771.2,202.3 773.8,199.8 776.5,197.3 779.2,195.0 781.8,192.4 784.2,189.6 787.7,187.5 790.3,184.4 792.2,180.8 795.9,178.9 798.2,175.5 801.0,172.7 804.8,171.1 808.1,168.6 811.6,166.4 815.0,164.9 818.5,163.3 822.1,162.2 826.3,160.0 830.6,158.0 834.8,157.2 838.9,156.4 843.2,156.9 846.6,158.3 850.1,158.9 853.8,159.0 857.6,161.6 862.2,162.2 860.1,155.8 855.9,151.6 860.4,148.8 864.3,145.3 868.6,143.3 872.8,141.0 876.2,139.9 878.7,137.1 882.4,136.6 885.4,134.7 888.5,133.0 891.4,130.9 894.6,129.4 898.1,128.4 901.9,127.2 905.5,125.3 909.4,124.5 913.3,123.5 917.0,122.0 920.0,121.0"/>
<polyline fill="none" stroke="#111" stroke-width="1.05" stroke-linejoin="round" points="590.1,487.1 593.2,489.5 594.7,493.3 597.2,496.2 599.2,499.6 602.8,501.6 604.9,504.9 608.6,502.5 613.1,501.4 616.8,499.0 622.8,502.0 621.0,506.3 619.8,510.9 618.4,514.7 615.9,517.8 614.7,521.7 612.1,524.9 610.9,528.7 609.6,533.0 607.4,536.9 604.9,540.6 602.2,543.1 601.2,546.7 599.4,549.8 596.4,552.2 594.7,555.4 593.0,558.5 590.5,561.5 587.0,563.2 583.9,565.4 581.6,568.6 578.2,570.4 574.5,571.9 571.4,574.7 567.6,576.1 564.3,578.3 560.3,579.3 557.8,582.7 553.6,584.5 551.4,588.2 550.1,592.7 548.4,597.1 548.7,592.5 546.9,588.2 547.3,584.2 548.1,580.3 548.4,576.3 551.3,573.8 553.2,570.6 554.4,566.9 557.3,564.4 560.4,562.3 563.4,560.2 565.8,557.2 569.2,555.5 570.7,552.0 574.3,550.0 575.9,546.6 577.6,543.2 580.3,540.5 582.6,537.6 583.1,533.7 585.5,530.4 586.0,526.5 587.1,522.8 587.4,518.8 590.0,515.5 589.5,511.4 591.5,507.9 590.3,504.3 589.0,500.6 589.8,496.6 588.6,493.0 590.1,487.1"/>
<polyline fill="none" stroke="#111" stroke-width="1.05" stroke-linejoin="round" points="796.8,63.0 796.5,67.4 799.3,71.3 799.0,75.7 799.9,79.4 802.5,82.4 803.2,86.2 804.0,90.2 807.7,92.8 807.7,97.1 809.8,100.4 811.2,104.1 813.7,107.3 817.6,109.4 822.1,109.4 826.2,107.5 830.5,106.3 834.8,105.2 837.3,102.7 838.6,99.3 841.1,96.8 844.7,95.2 848.3,94.1 852.4,94.3 855.9,92.5 860.3,92.2 864.3,90.4 868.3,89.8 871.7,87.3 876.0,87.5 879.5,85.4 883.3,84.1 886.5,82.3 890.0,81.5 893.4,80.2 896.5,78.2 900.2,77.8 903.6,76.7 906.8,75.0 910.3,74.1 914.0,73.6 917.0,71.4 920.0,70.0"/>
<polyline fill="none" stroke="#111" stroke-width="1.05" stroke-linejoin="round" points="883.3,84.1 885.7,87.4 887.5,91.1 889.6,94.6 893.8,95.0 898.1,95.6 902.3,96.1 906.5,96.8 910.7,101.0 907.0,102.8 904.0,105.7 900.2,107.3 896.5,109.1 893.7,112.4 889.6,113.6 887.1,117.4 884.3,120.9 881.2,124.2 883.0,128.2 883.3,132.6"/>
<polyline fill="none" stroke="#111" stroke-width="1.05" stroke-linejoin="round" points="889.6,113.6 893.2,113.2 896.9,113.5 900.5,113.4 904.0,112.0 907.8,112.9 911.1,115.2 915.0,116.0 920.0,114.0"/>
</g>
<rect x="104.0" y="63.3" width="815.5" height="634.1" fill="none" stroke="#111" stroke-width="2"/>
<line x1="100" y1="63.3" x2="104" y2="63.3" stroke="#111" stroke-width="1.4"/>
<text x="78.1" y="67.8" textLength="19.7" lengthAdjust="spacingAndGlyphs" class="ax">22S</text>
<line x1="100" y1="116.1" x2="104" y2="116.1" stroke="#111" stroke-width="1.4"/>
<text x="78.1" y="120.6" textLength="19.7" lengthAdjust="spacingAndGlyphs" class="ax">23S</text>
<line x1="100" y1="169.0" x2="104" y2="169.0" stroke="#111" stroke-width="1.4"/>
<text x="78.1" y="173.5" textLength="19.7" lengthAdjust="spacingAndGlyphs" class="ax">24S</text>
<line x1="100" y1="221.8" x2="104" y2="221.8" stroke="#111" stroke-width="1.4"/>
<text x="78.1" y="226.3" textLength="19.7" lengthAdjust="spacingAndGlyphs" class="ax">25S</text>
<line x1="100" y1="274.7" x2="104" y2="274.7" stroke="#111" stroke-width="1.4"/>
<text x="78.1" y="279.2" textLength="19.7" lengthAdjust="spacingAndGlyphs" class="ax">26S</text>
<line x1="100" y1="327.5" x2="104" y2="327.5" stroke="#111" stroke-width="1.4"/>
<text x="78.1" y="332.0" textLength="19.7" lengthAdjust="spacingAndGlyphs" class="ax">27S</text>
<line x1="100" y1="380.4" x2="104" y2="380.4" stroke="#111" stroke-width="1.4"/>
<text x="78.1" y="384.9" textLength="19.7" lengthAdjust="spacingAndGlyphs" class="ax">28S</text>
<line x1="100" y1="433.2" x2="104" y2="433.2" stroke="#111" stroke-width="1.4"/>
<text x="78.1" y="437.7" textLength="19.7" lengthAdjust="spacingAndGlyphs" class="ax">29S</text>
<line x1="100" y1="486.0" x2="104" y2="486.0" stroke="#111" stroke-width="1.4"/>
<text x="78.1" y="490.5" textLength="19.7" lengthAdjust="spacingAndGlyphs" class="ax">30S</text>
<line x1="100" y1="538.9" x2="104" y2="538.9" stroke="#111" stroke-width="1.4"/>
<text x="78.1" y="543.4" textLength="19.7" lengthAdjust="spacingAndGlyphs" class="ax">31S</text>
<line x1="100" y1="591.7" x2="104" y2="591.7" stroke="#111" stroke-width="1.4"/>
<text x="78.1" y="596.2" textLength="19.7" lengthAdjust="spacingAndGlyphs" class="ax">32S</text>
<line x1="100" y1="644.6" x2="104" y2="644.6" stroke="#111" stroke-width="1.4"/>
<text x="78.1" y="649.1" textLength="19.7" lengthAdjust="spacingAndGlyphs" class="ax">33S</text>
<line x1="100" y1="697.4" x2="104" y2="697.4" stroke="#111" stroke-width="1.4"/>
<text x="78.1" y="701.9" textLength="19.7" lengthAdjust="spacingAndGlyphs" class="ax">34S</text>
<line x1="104.0" y1="697" x2="104.0" y2="701" stroke="#111" stroke-width="1.4"/>
<text x="93.5" y="712.0" textLength="21.1" lengthAdjust="spacingAndGlyphs" class="ax">62W</text>
<line x1="194.6" y1="697" x2="194.6" y2="701" stroke="#111" stroke-width="1.4"/>
<text x="184.1" y="712.0" textLength="21.1" lengthAdjust="spacingAndGlyphs" class="ax">60W</text>
<line x1="285.2" y1="697" x2="285.2" y2="701" stroke="#111" stroke-width="1.4"/>
<text x="274.7" y="712.0" textLength="21.1" lengthAdjust="spacingAndGlyphs" class="ax">58W</text>
<line x1="375.8" y1="697" x2="375.8" y2="701" stroke="#111" stroke-width="1.4"/>
<text x="365.3" y="712.0" textLength="21.1" lengthAdjust="spacingAndGlyphs" class="ax">56W</text>
<line x1="466.4" y1="697" x2="466.4" y2="701" stroke="#111" stroke-width="1.4"/>
<text x="455.9" y="712.0" textLength="21.1" lengthAdjust="spacingAndGlyphs" class="ax">54W</text>
<line x1="557.1" y1="697" x2="557.1" y2="701" stroke="#111" stroke-width="1.4"/>
<text x="546.6" y="712.0" textLength="21.1" lengthAdjust="spacingAndGlyphs" class="ax">52W</text>
<line x1="647.7" y1="697" x2="647.7" y2="701" stroke="#111" stroke-width="1.4"/>
<text x="637.2" y="712.0" textLength="21.1" lengthAdjust="spacingAndGlyphs" class="ax">50W</text>
<line x1="738.3" y1="697" x2="738.3" y2="701" stroke="#111" stroke-width="1.4"/>
<text x="727.8" y="712.0" textLength="21.1" lengthAdjust="spacingAndGlyphs" class="ax">48W</text>
<line x1="828.9" y1="697" x2="828.9" y2="701" stroke="#111" stroke-width="1.4"/>
<text x="818.4" y="712.0" textLength="21.1" lengthAdjust="spacingAndGlyphs" class="ax">46W</text>
<line x1="919.5" y1="697" x2="919.5" y2="701" stroke="#111" stroke-width="1.4"/>
<text x="909.0" y="712.0" textLength="21.1" lengthAdjust="spacingAndGlyphs" class="ax">44W</text>
<rect x="46.25" y="733.5" width="43.22" height="18.3" fill="#ffffff"/>
<rect x="89.47" y="733.5" width="43.22" height="18.3" fill="#8cfbea"/>
<rect x="132.69" y="733.5" width="43.22" height="18.3" fill="#00a0ff"/>
<rect x="175.91" y="733.5" width="43.22" height="18.3" fill="#22a02a"/>
<rect x="219.13" y="733.5" width="43.22" height="18.3" fill="#00fa32"/>
<rect x="262.35" y="733.5" width="43.22" height="18.3" fill="#fffa32"/>
<rect x="305.57" y="733.5" width="43.22" height="18.3" fill="#ffa818"/>
<rect x="348.79" y="733.5" width="43.22" height="18.3" fill="#ff2200"/>
<rect x="392.01" y="733.5" width="43.22" height="18.3" fill="#d2231b"/>
<rect x="435.23" y="733.5" width="43.22" height="18.3" fill="#9a5412"/>
<rect x="478.45" y="733.5" width="43.22" height="18.3" fill="#e3ae80"/>
<rect x="521.67" y="733.5" width="43.22" height="18.3" fill="#ea50ee"/>
<rect x="564.89" y="733.5" width="43.22" height="18.3" fill="#f4a8f4"/>
<rect x="608.11" y="733.5" width="43.22" height="18.3" fill="#fad8fa"/>
<rect x="46.25" y="733.5" width="605.08" height="18.3" fill="none" stroke="#222" stroke-width="1.3"/>
<line x1="89.47" y1="733.5" x2="89.47" y2="751.8" stroke="#222" stroke-width="1.2"/>
<line x1="132.69" y1="733.5" x2="132.69" y2="751.8" stroke="#222" stroke-width="1.2"/>
<line x1="175.91" y1="733.5" x2="175.91" y2="751.8" stroke="#222" stroke-width="1.2"/>
<line x1="219.13" y1="733.5" x2="219.13" y2="751.8" stroke="#222" stroke-width="1.2"/>
<line x1="262.35" y1="733.5" x2="262.35" y2="751.8" stroke="#222" stroke-width="1.2"/>
<line x1="305.57" y1="733.5" x2="305.57" y2="751.8" stroke="#222" stroke-width="1.2"/>
<line x1="348.79" y1="733.5" x2="348.79" y2="751.8" stroke="#222" stroke-width="1.2"/>
<line x1="392.01" y1="733.5" x2="392.01" y2="751.8" stroke="#222" stroke-width="1.2"/>
<line x1="435.23" y1="733.5" x2="435.23" y2="751.8" stroke="#222" stroke-width="1.2"/>
<line x1="478.45" y1="733.5" x2="478.45" y2="751.8" stroke="#222" stroke-width="1.2"/>
<line x1="521.67" y1="733.5" x2="521.67" y2="751.8" stroke="#222" stroke-width="1.2"/>
<line x1="564.89" y1="733.5" x2="564.89" y2="751.8" stroke="#222" stroke-width="1.2"/>
<line x1="608.11" y1="733.5" x2="608.11" y2="751.8" stroke="#222" stroke-width="1.2"/>
<text x="89.47" y="764.1" text-anchor="middle" class="lg">1</text>
<text x="132.69" y="764.1" text-anchor="middle" class="lg">5</text>
<text x="169.1" y="764.1" textLength="13.7" lengthAdjust="spacingAndGlyphs" class="lg">10</text>
<text x="212.3" y="764.1" textLength="13.7" lengthAdjust="spacingAndGlyphs" class="lg">15</text>
<text x="255.5" y="764.1" textLength="13.7" lengthAdjust="spacingAndGlyphs" class="lg">20</text>
<text x="298.7" y="764.1" textLength="13.7" lengthAdjust="spacingAndGlyphs" class="lg">30</text>
<text x="341.9" y="764.1" textLength="13.7" lengthAdjust="spacingAndGlyphs" class="lg">40</text>
<text x="385.2" y="764.1" textLength="13.7" lengthAdjust="spacingAndGlyphs" class="lg">50</text>
<text x="428.4" y="764.1" textLength="13.7" lengthAdjust="spacingAndGlyphs" class="lg">75</text>
<text x="468.2" y="764.1" textLength="20.5" lengthAdjust="spacingAndGlyphs" class="lg">100</text>
<text x="511.4" y="764.1" textLength="20.5" lengthAdjust="spacingAndGlyphs" class="lg">150</text>
<text x="554.6" y="764.1" textLength="20.5" lengthAdjust="spacingAndGlyphs" class="lg">200</text>
<text x="597.9" y="764.1" textLength="20.5" lengthAdjust="spacingAndGlyphs" class="lg">300</text>
</svg>
</body></html>
